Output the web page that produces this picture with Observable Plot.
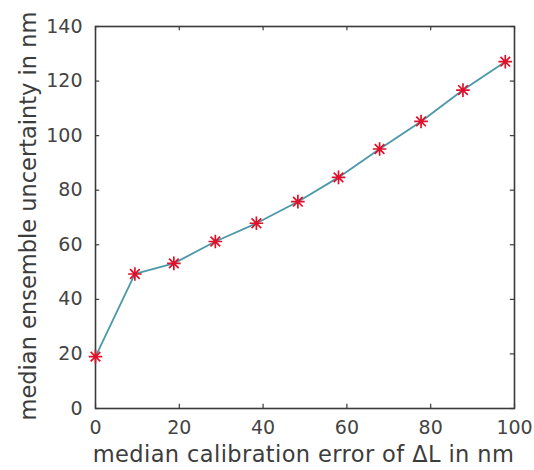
<!DOCTYPE html>
<html>
<head>
<meta charset="utf-8">
<script src="https://cdn.jsdelivr.net/npm/d3@7"></script>
<script src="https://cdn.jsdelivr.net/npm/@observablehq/plot@0.6"></script>
<style>
  html, body { margin: 0; padding: 0; background: #fff; }
  #chart svg { display: block; }
</style>
</head>
<body>
<div id="chart"></div>
<script>
// Calibration error of ΔL (nm) vs. median ensemble uncertainty (nm)
const calibrationError = [0, 9.4, 18.7, 28.6, 38.4, 48.3, 58.0, 67.8, 77.7, 87.7, 97.8];
const ensembleUncertainty = [19.0, 49.3, 53.2, 61.2, 67.9, 75.8, 84.7, 95.1, 105.2, 116.7, 127.1];

const xTicks = [0, 20, 40, 60, 80, 100];
const yTicks = [0, 20, 40, 60, 80, 100, 120, 140];

const xLabel = "median calibration error of \u0394L in nm";
const yLabel = "median ensemble uncertainty in nm";

const data = calibrationError.map((x, i) => ({x, y: ensembleUncertainty[i]}));

// MATLAB-style "*" marker: plus and cross overlaid
const asterisk = {
  draw(context, size) {
    const r = Math.sqrt(size / Math.PI);
    const d = r * Math.SQRT1_2;
    context.moveTo(-r, 0); context.lineTo(r, 0);
    context.moveTo(0, -r); context.lineTo(0, r);
    context.moveTo(-d, -d); context.lineTo(d, d);
    context.moveTo(-d, d); context.lineTo(d, -d);
  }
};

const axisColor = "#3a3a3a";
const tickTextColor = "#444";
const labelColor = "#3c3c3c";
const font = "'DejaVu Sans', sans-serif";

const chart = Plot.plot({
  width: 534,
  height: 470,
  marginLeft: 95,
  marginRight: 20,
  marginTop: 26,
  marginBottom: 62,
  style: {fontFamily: font, background: "#fff"},
  x: {domain: [0, 100]},
  y: {domain: [0, 140]},
  marks: [
    // inward tick marks on all four sides
    Plot.ruleX(xTicks, {y1: 0, y2: 1.6, stroke: axisColor, strokeWidth: 1.2}),
    Plot.ruleX(xTicks, {y1: 140, y2: 138.4, stroke: axisColor, strokeWidth: 1.2}),
    Plot.ruleY(yTicks, {x1: 0, x2: 1.0, stroke: axisColor, strokeWidth: 1.2}),
    Plot.ruleY(yTicks, {x1: 100, x2: 99.0, stroke: axisColor, strokeWidth: 1.2}),
    Plot.frame({stroke: axisColor, strokeWidth: 1.6}),
    Plot.axisX(xTicks, {tickSize: 0, tickPadding: 12, fontSize: 19, color: tickTextColor, label: null}),
    Plot.axisY(yTicks, {tickSize: 0, tickPadding: 13, fontSize: 19, color: tickTextColor, label: null}),
    // axis titles
    Plot.text([xLabel], {
      text: d => d, frameAnchor: "bottom", dx: -1.5, dy: 53,
      fontSize: 22.5, fill: labelColor, textAnchor: "middle"
    }),
    Plot.text([yLabel], {
      text: d => d, frameAnchor: "left", rotate: -90, dx: -67, dy: -1.5,
      fontSize: 22.5, fill: labelColor, textAnchor: "middle"
    }),
    Plot.line(data, {x: "x", y: "y", stroke: "#4a98a8", strokeWidth: 1.8}),
    Plot.dot(data, {x: "x", y: "y", symbol: asterisk, r: 6.8, stroke: "#e0102a", strokeWidth: 1.7})
  ]
});

// slight tracking on the x title to match its set width
d3.select(chart).selectAll("text")
  .filter(function () { return this.textContent === xLabel; })
  .style("letter-spacing", "0.4px");

document.getElementById("chart").appendChild(chart);
</script>
</body>
</html>
